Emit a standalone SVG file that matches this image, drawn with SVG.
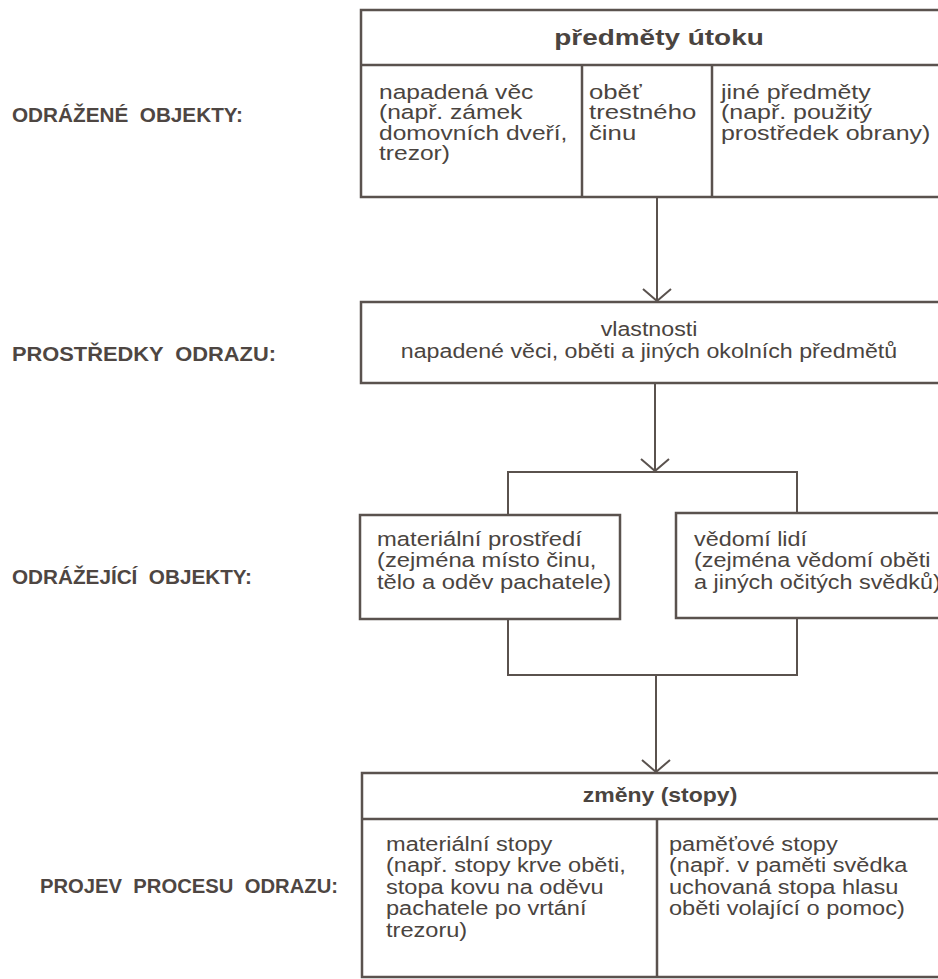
<svg xmlns="http://www.w3.org/2000/svg" width="938" height="979" viewBox="0 0 938 979">
<defs>
<style>
.box{fill:#fff;stroke:#5a524e;stroke-width:2.5}
.ln{fill:none;stroke:#5a524e;stroke-width:2}
.t{font-family:"Liberation Sans",Arial,sans-serif;font-size:19.5px;fill:#4a4440}
.b{font-family:"Liberation Sans",Arial,sans-serif;font-weight:bold;fill:#4a4440}
.lab{font-family:"Liberation Sans",Arial,sans-serif;font-size:20px;font-weight:bold;fill:#4e4642}
</style>
<marker id="v" viewBox="0 0 14 30" refX="13" refY="15" markerWidth="14" markerHeight="30" markerUnits="userSpaceOnUse" orient="auto">
<path d="M1,1 L13,15 L1,29" fill="none" stroke="#5a524e" stroke-width="2"/>
</marker>
</defs>
<rect width="938" height="979" fill="#fff"/>

<g id="labels">
<text class="lab" x="12" y="122" xml:space="preserve" textLength="231" lengthAdjust="spacingAndGlyphs">ODRÁŽENÉ  OBJEKTY:</text>
<text class="lab" x="12" y="361" xml:space="preserve" textLength="264" lengthAdjust="spacingAndGlyphs">PROSTŘEDKY  ODRAZU:</text>
<text class="lab" x="12" y="584" xml:space="preserve" textLength="240" lengthAdjust="spacingAndGlyphs">ODRÁŽEJÍCÍ  OBJEKTY:</text>
<text class="lab" x="40" y="893" xml:space="preserve" textLength="298" lengthAdjust="spacingAndGlyphs">PROJEV  PROCESU  ODRAZU:</text>
</g>

<g id="connectors">
<line class="ln" x1="657" y1="197" x2="657" y2="301" marker-end="url(#v)"/>
<line class="ln" x1="655" y1="383" x2="655" y2="471" marker-end="url(#v)"/>
<polyline class="ln" points="508,515 508,472 797,472 797,513"/>
<polyline class="ln" points="508,619 508,675 797,675 797,618"/>
<line class="ln" x1="656" y1="675" x2="656" y2="772" marker-end="url(#v)"/>
</g>

<g id="n-predmety">
<rect class="box" x="361" y="10" width="590" height="187"/>
<line class="box" x1="361" y1="65" x2="951" y2="65"/>
<line class="box" x1="582" y1="65" x2="582" y2="197"/>
<line class="box" x1="712" y1="65" x2="712" y2="197"/>
<text class="b" font-size="21.5" transform="translate(659,45) scale(1.3,1)" text-anchor="middle">předměty útoku</text>
<text class="t" transform="translate(379,99) scale(1.26,1)"><tspan x="0" y="0">napadená věc</tspan><tspan x="0" dy="20.5">(např. zámek</tspan><tspan x="0" dy="20.5">domovních dveří,</tspan><tspan x="0" dy="20.5">trezor)</tspan></text>
<text class="t" transform="translate(589,99) scale(1.32,1)"><tspan x="0" y="0">oběť</tspan><tspan x="0" dy="20.5">trestného</tspan><tspan x="0" dy="20.5">činu</tspan></text>
<text class="t" transform="translate(721,99) scale(1.28,1)"><tspan x="0" y="0">jiné předměty</tspan><tspan x="0" dy="20.5">(např. použitý</tspan><tspan x="0" dy="20.5">prostředek obrany)</tspan></text>
</g>

<g id="n-vlastnosti">
<rect class="box" x="361" y="302" width="590" height="81"/>
<text class="t" transform="translate(649,336) scale(1.19,1)" text-anchor="middle"><tspan x="0" y="0">vlastnosti</tspan><tspan x="0" dy="22">napadené věci, oběti a jiných okolních předmětů</tspan></text>
</g>

<g id="n-material">
<rect class="box" x="360" y="515" width="260" height="104"/>
<text class="t" transform="translate(377,546) scale(1.22,1)"><tspan x="0" y="0">materiální prostředí</tspan><tspan x="0" dy="21.5">(zejména místo činu,</tspan><tspan x="0" dy="21.5">tělo a oděv pachatele)</tspan></text>
</g>

<g id="n-vedomi">
<rect class="box" x="676" y="513" width="275" height="105"/>
<text class="t" transform="translate(694,546) scale(1.2,1)"><tspan x="0" y="0">vědomí lidí</tspan><tspan x="0" dy="21.5">(zejména vědomí oběti</tspan><tspan x="0" dy="21.5">a jiných očitých svědků)</tspan></text>
</g>

<g id="n-zmeny">
<rect class="box" x="362" y="773" width="590" height="204"/>
<line class="box" x1="362" y1="819" x2="952" y2="819"/>
<line class="box" x1="657" y1="819" x2="657" y2="977"/>
<text class="b" font-size="20" transform="translate(660,802) scale(1.15,1)" text-anchor="middle">změny (stopy)</text>
<text class="t" transform="translate(386,851) scale(1.21,1)"><tspan x="0" y="0">materiální stopy</tspan><tspan x="0" dy="21.5">(např. stopy krve oběti,</tspan><tspan x="0" dy="21.5">stopa kovu na oděvu</tspan><tspan x="0" dy="21.5">pachatele po vrtání</tspan><tspan x="0" dy="21.5">trezoru)</tspan></text>
<text class="t" transform="translate(669,851) scale(1.21,1)"><tspan x="0" y="0">paměťové stopy</tspan><tspan x="0" dy="21.5">(např. v paměti svědka</tspan><tspan x="0" dy="21.5">uchovaná stopa hlasu</tspan><tspan x="0" dy="21.5">oběti volající o pomoc)</tspan></text>
</g>
</svg>
